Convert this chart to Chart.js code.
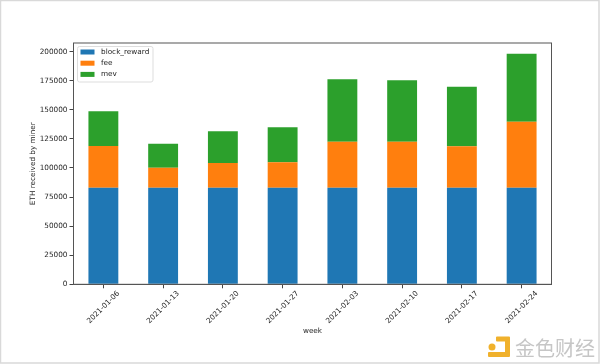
<!DOCTYPE html>
<html>
<head>
<meta charset="utf-8">
<script src="https://cdn.jsdelivr.net/npm/chart.js@4"></script>
<style>
html, body { margin: 0; padding: 0; background: #fff; }
canvas { display: block; }
</style>
</head>
<body>
<canvas id="grafico" width="600" height="364"></canvas>
<script>
const semanas = ['2021-01-06', '2021-01-13', '2021-01-20', '2021-01-27', '2021-02-03', '2021-02-10', '2021-02-17', '2021-02-24'];
const blockReward = [83000, 83000, 83000, 83000, 83000, 83000, 83000, 83000];
const fee = [35900, 17200, 21200, 21800, 39500, 39500, 35600, 56800];
const mev = [29800, 20700, 27300, 30200, 53700, 52800, 51300, 58400];
const ticksY = [0, 25000, 50000, 75000, 100000, 125000, 150000, 175000, 200000];

const FONTE = '"DejaVu Sans", sans-serif';
const TAM_FONTE = 7.3;
const COR_TEXTO = '#262626';

// moldura do eixo, legenda dentro do grafico, borda da imagem e marca d'agua
const extras = {
    id: 'extras',
    afterDraw(chart) {
        const ctx = chart.ctx;
        const area = chart.chartArea;
        ctx.save();

        ctx.strokeStyle = '#555';
        ctx.lineWidth = 1;
        ctx.strokeRect(area.left, area.top, area.right - area.left, area.bottom - area.top);

        // legenda
        ctx.fillStyle = '#fff';
        ctx.strokeStyle = '#ddd';
        ctx.beginPath();
        ctx.roundRect(77.5, 46.5, 75.5, 35.5, 2);
        ctx.fill();
        ctx.stroke();
        ctx.font = TAM_FONTE + 'px ' + FONTE;
        ctx.textBaseline = 'middle';
        chart.data.datasets.forEach((ds, i) => {
            const y = 52 + i * 11.2;
            ctx.fillStyle = ds.backgroundColor;
            ctx.fillRect(80.5, y - 2.5, 14, 5);
            ctx.fillStyle = COR_TEXTO;
            ctx.fillText(ds.label, 101, y);
        });

        // borda cinza da imagem
        ctx.strokeStyle = '#d9d9d9';
        ctx.lineWidth = 1.5;
        ctx.strokeRect(0.5, 0.5, 598.5, 362.5);

        // marca d'agua
        ctx.fillStyle = '#f0b12c';
        ctx.beginPath();
        ctx.roundRect(496, 336.5, 14, 5, 1);
        ctx.roundRect(505, 336.5, 5, 20.5, 1);
        ctx.roundRect(488, 352, 22, 5, 1);
        ctx.fill();
        ctx.beginPath();
        ctx.arc(492, 347, 3.5, 0, Math.PI * 2);
        ctx.fill();
        ctx.fillStyle = '#c6c6c6';
        ctx.font = '20px "Noto Sans CJK SC", sans-serif';
        ctx.textBaseline = 'middle';
        ctx.fillText('金色财经', 515, 348);

        ctx.restore();
    }
};

new Chart(document.getElementById('grafico'), {
    type: 'bar',
    data: {
        labels: semanas,
        datasets: [
            { label: 'block_reward', data: blockReward, backgroundColor: '#1f77b4' },
            { label: 'fee', data: fee, backgroundColor: '#ff7f0e' },
            { label: 'mev', data: mev, backgroundColor: '#2ca02c' }
        ]
    },
    options: {
        responsive: false,
        animation: false,
        barPercentage: 0.5,
        categoryPercentage: 1,
        layout: { padding: { left: 28.5, right: 48.5, top: 43, bottom: 0 } },
        plugins: {
            legend: { display: false },
            tooltip: { enabled: false }
        },
        scales: {
            x: {
                stacked: true,
                afterFit(scale) { scale.height = 79.7; },
                // marcas no centro de cada barra
                grid: { drawOnChartArea: false, offset: false, color: '#444', tickLength: 4 },
                border: { color: '#555' },
                title: { display: true, text: 'week', color: COR_TEXTO, font: { family: FONTE, size: TAM_FONTE }, padding: { top: 0, bottom: 29 } },
                ticks: {
                    color: COR_TEXTO,
                    font: { family: FONTE, size: TAM_FONTE },
                    maxRotation: 45,
                    minRotation: 45,
                    autoSkip: false,
                    labelOffset: 15,
                    padding: 1
                }
            },
            y: {
                stacked: true,
                min: 0,
                max: 207400,
                afterFit(scale) { scale.width = 45; },
                afterBuildTicks(scale) { scale.ticks = ticksY.map(v => ({ value: v })); },
                grid: { drawOnChartArea: false, color: '#444', tickLength: 4 },
                border: { color: '#555' },
                title: { display: true, text: 'ETH received by miner', color: COR_TEXTO, font: { family: FONTE, size: TAM_FONTE }, padding: { top: 0, bottom: 0 } },
                ticks: {
                    color: COR_TEXTO,
                    font: { family: FONTE, size: TAM_FONTE },
                    padding: 2,
                    callback: v => String(v)
                }
            }
        }
    },
    plugins: [extras]
});
</script>
</body>
</html>
